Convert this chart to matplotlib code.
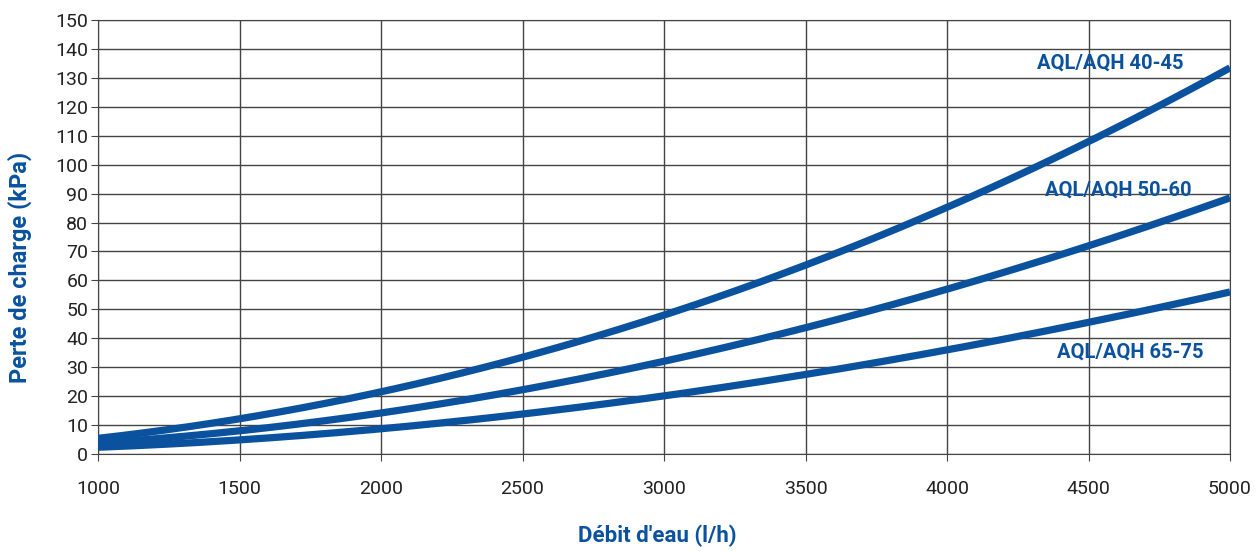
import matplotlib
matplotlib.use("Agg")
import matplotlib.pyplot as plt
import numpy as np
from matplotlib import font_manager

flow = [1000, 1500, 2000, 2500, 3000, 3500, 4000, 4500, 5000]
s_40_45 = [5.5, 12, 21.5, 33.5, 48, 65.5, 85, 108, 133.5]
s_50_60 = [3.8, 8, 14, 22.5, 32, 43.5, 57, 72, 88.5]
s_65_75 = [2.3, 5, 8.5, 14, 20, 27.5, 36, 45.5, 56]
labels = ["AQL/AQH 40-45", "AQL/AQH 50-60", "AQL/AQH 65-75"]
label_pos = [(4576, 135), (4604, 91.3), (4647, 35.3)]
xticks = list(range(1000, 5001, 500))
yticks = list(range(0, 151, 10))

names = {f.name for f in font_manager.fontManager.ttflist}
fam = "Liberation Sans Narrow" if "Liberation Sans Narrow" in names else "Roboto"
plt.rcParams['font.family'] = [fam, 'DejaVu Sans']

blue = "#0a529e"
fig = plt.figure(figsize=(12.58, 5.51), dpi=100)
ax = fig.add_axes([98/1258, 1-454/551, 1132/1258, 434/551])

xs = np.linspace(1000, 5000, 200)
for s in (s_40_45, s_50_60, s_65_75):
    c = np.polyfit(flow, s, 3)
    ax.plot(xs, np.polyval(c, xs), color=blue, lw=5.2, solid_capstyle='butt', zorder=3)

for t, (x, y) in zip(labels, label_pos):
    ax.text(x, y, t, color=blue, fontsize=14.5, fontweight='bold', ha='center', va='center', zorder=4)

ax.set_xlim(1000, 5000)
ax.set_ylim(0, 150)
ax.set_xticks(xticks)
ax.set_yticks(yticks)
ax.grid(True, color="#444444", lw=1)
ax.set_axisbelow(True)
for sp in ax.spines.values():
    sp.set_color("#444444")
ax.tick_params(axis='both', colors="#444444", labelcolor="#222222", labelsize=14, length=5)
ax.tick_params(axis='x', pad=14)
ax.tick_params(axis='y', pad=2)
ax.set_xlabel("Débit d'eau (l/h)", color=blue, fontsize=16, fontweight='bold')
ax.set_ylabel("Perte de charge (kPa)", color=blue, fontsize=17, fontweight='bold')
ax.xaxis.set_label_coords((657-98)/1132, (454-536)/434)
ax.yaxis.set_label_coords((20-98)/1132, (454-267)/434)
ax.xaxis.label.set_va('center')
ax.yaxis.label.set_va('center')

fig.savefig("out.png", dpi=100)
